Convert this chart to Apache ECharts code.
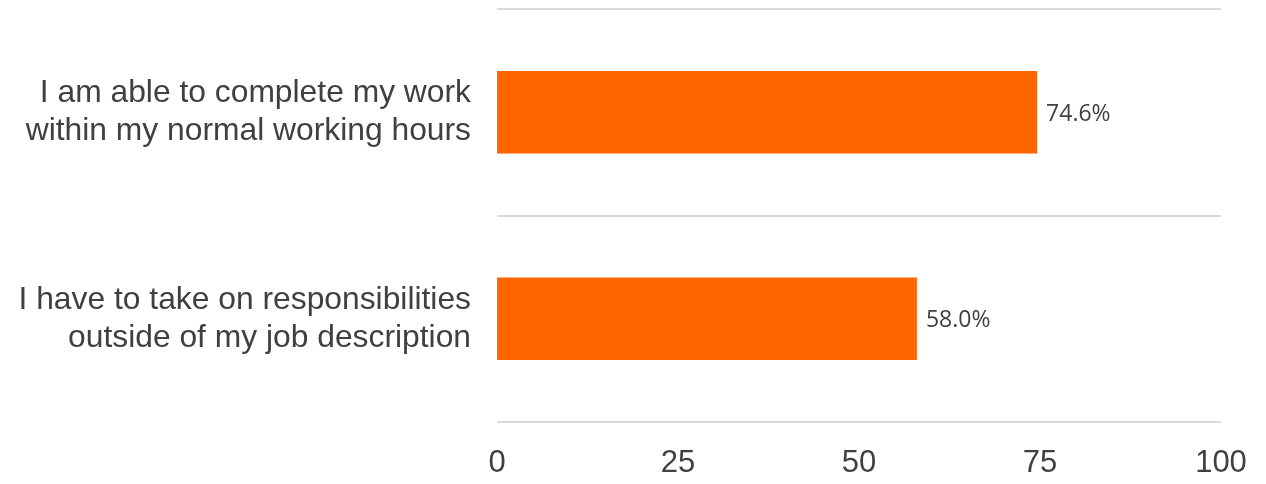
<!DOCTYPE html>
<html>
<head>
<meta charset="utf-8">
<script src="https://cdn.jsdelivr.net/npm/echarts@6/dist/echarts.min.js"></script>
<style>
  html, body { margin: 0; padding: 0; background: #fff; }
  #chart { width: 1266px; height: 484px; }
</style>
</head>
<body>
<div id="chart"></div>
<script>
// Survey statements, top to bottom
const categories = [
  'I am able to complete my work\nwithin my normal working hours',
  'I have to take on responsibilities\noutside of my job description'
];
// Share of respondents agreeing (%)
const agreeValues = [74.6, 58.0];
// Value axis ticks
const axisMin = 0;
const axisMax = 100;
const axisStep = 25;

const chart = echarts.init(document.getElementById('chart'), null, { renderer: 'canvas' });
chart.setOption({
  animation: false,
  grid: { left: 497, right: 45, top: 9, bottom: 62, containLabel: false },
  xAxis: {
    type: 'value',
    min: axisMin,
    max: axisMax,
    interval: axisStep,
    axisLine: { show: false },
    axisTick: { show: false },
    splitLine: { show: false },
    axisLabel: {
      color: '#404040',
      fontFamily: 'Liberation Sans, Arial, sans-serif',
      fontSize: 31,
      margin: 26
    }
  },
  yAxis: {
    type: 'category',
    data: categories,
    inverse: true,
    axisLine: { show: false },
    axisTick: { show: false },
    splitLine: { show: true, lineStyle: { color: '#d9d9d9', width: 2 } },
    axisLabel: {
      color: '#404040',
      fontFamily: 'Liberation Sans, Arial, sans-serif',
      fontSize: 31.8,
      lineHeight: 38,
      margin: 26,
      align: 'right'
    }
  },
  series: [{
    type: 'bar',
    data: agreeValues,
    barWidth: '40%',
    itemStyle: { color: '#ff6600' },
    label: {
      show: true,
      position: 'right',
      distance: 9,
      offset: [0, 2],
      color: '#404040',
      fontFamily: 'Open Sans, Noto Sans, sans-serif',
      fontSize: 23,
      formatter: p => p.value.toFixed(1) + '%'
    }
  }]
});
</script>
</body>
</html>
